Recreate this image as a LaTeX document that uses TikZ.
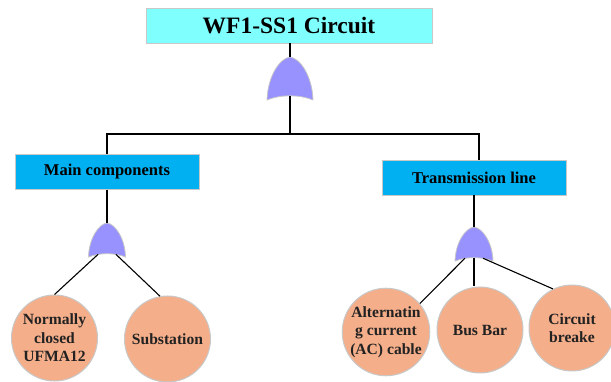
\documentclass[tikz,border=0pt]{standalone}
\usepackage{fontspec}
\setmainfont{Liberation Serif}
\definecolor{titlefill}{RGB}{128,255,255}
\definecolor{boxfill}{RGB}{0,176,240}
\definecolor{eventfill}{RGB}{245,174,138}
\definecolor{gatefill}{RGB}{152,146,255}
\definecolor{edgegray}{RGB}{200,200,200}
\definecolor{evtext}{RGB}{34,34,34}
\tikzset{
  wire/.style={draw=black, line width=1.1pt},
  titlebox/.style={rectangle, fill=titlefill, draw=edgegray, line width=0.8pt,
    minimum width=286pt, minimum height=35pt, inner sep=0pt,
    font=\fontsize{23.5}{28}\selectfont\bfseries},
  subbox/.style={rectangle, fill=boxfill, draw=edgegray, line width=0.8pt,
    minimum width=184pt, minimum height=35pt, inner sep=0pt,
    font=\fontsize{16.5}{20}\selectfont\bfseries},
  event/.style={circle, fill=eventfill, draw=edgegray, line width=1pt,
    minimum size=86pt, inner sep=0pt, align=center, text=evtext,
    font=\fontsize{15.6}{18.5}\selectfont\bfseries},
  pics/orgate/.style 2 args={code={
    \fill[gatefill, draw=edgegray, line width=0.8pt]
      (-#1,#2) .. controls (-0.97*#1,0.45*#2) and (-0.45*#1,0.03*#2) .. (0,0)
      .. controls (0.45*#1,0.03*#2) and (0.97*#1,0.45*#2) .. (#1,#2)
      .. controls (0.4*#1,0.87*#2) and (-0.4*#1,0.87*#2) .. cycle;
    \coordinate (-top) at (0,0);
    \coordinate (-bot) at (0,0.9*#2);
    \coordinate (-bl) at (-0.48*#1,0.92*#2);
    \coordinate (-br) at (0.48*#1,0.92*#2);
  }}
}
\begin{document}
\begin{tikzpicture}[x=1pt, y=-1pt]
\useasboundingbox (0,0) rectangle (611,382);

% top event and first-level gate
\node[titlebox] (top) at (289,25.5) {WF1-SS1 Circuit};
\pic (g1) at (290,57) {orgate={23}{43}};

% intermediate events
\node[subbox] (mc) at (107,172) {Main components};
\node[subbox] (tl) at (474,177.5) {Transmission line};
\pic (g2) at (107,223) {orgate={18.5}{34}};
\pic (g3) at (474,227) {orgate={19}{34}};

% basic events
\node[event] (c1) at (54.5,338) {Normally\\closed\\UFMA12};
\node[event] (c2) at (167.5,339) {Substation};
\node[event] (c3) at (386,332) {Alternatin\\g current\\(AC) cable};
\node[event] (c4) at (480,330) {Bus Bar};
\node[event] (c5) at (572,328) {Circuit\\breake};

% bus under the top gate
\coordinate (busL) at (107,134);
\coordinate (busR) at (479,134);

\draw[wire] (top.south -| g1-top) -- (g1-top);
\draw[wire] (g1-bot) -- (g1-bot |- busL);
\draw[wire] (mc.north) -- (busL) -- (busR) -- (busR |- tl.north);

\draw[wire] (mc.south) -- (g2-top);
\draw[wire] (tl.south -| g3-top) -- (g3-top);

\draw[wire] (g2-bl) -- (c1.north);
\draw[wire] (g2-br) -- (c2.100);

\draw[wire] (g3-bl) -- (c3.40);
\draw[wire] (g3-bot) -- (g3-bot |- c4.north);
\draw[wire] (g3-br) -- (c5.116);
\end{tikzpicture}
\end{document}
